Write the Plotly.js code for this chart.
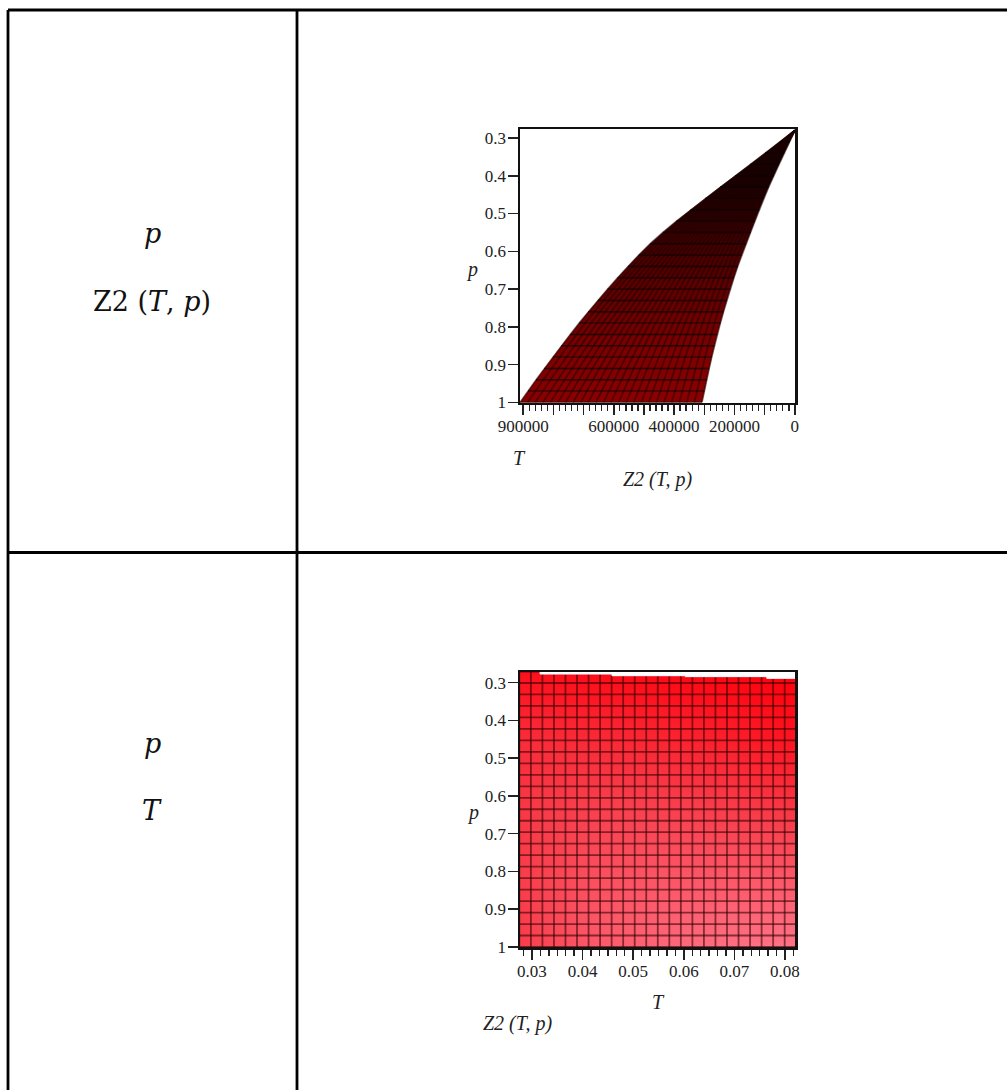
<!DOCTYPE html>
<html>
<head>
<meta charset="utf-8">
<script src="https://cdn.plot.ly/plotly-3.0.1.min.js"></script>
<style>html,body{margin:0;padding:0;background:#fff}#chart{width:1007px;height:1090px}</style>
</head>
<body>
<div id="chart"></div>
<script>
// ---- upper panel: p against Z2(T,p) ----
const pRows = [0.28,0.31,0.34,0.37,0.40,0.43,0.46,0.49,0.52,0.55,0.58,0.61,0.64,0.67,0.70,0.73,0.76,0.79,0.82,0.85,0.88,0.91,0.94,0.97,1.0];
const z2Far = [0,49000,98000,148000,198000,248000,297000,345000,392000,437000,479000,517000,553000,587000,620000,652500,684000,714500,744000,773000,801500,829500,857000,884000,910500];
const z2Near = [0,18000,35500,53000,70000,87000,103000,118000,132500,147000,161500,176000,189500,202000,214000,225500,236500,247000,257000,266500,275500,284000,292000,300000,308000];
const rowRed = [0,3,8,15,22,30,38,45,55,62,70,78,85,92,98,104,110,115,120,125,128,132,135,138];
const gridColumns = 24;
const z2TickVals = [900000,800000,700000,600000,500000,400000,300000,200000,100000,0];
const z2TickText = ['900000','','','600000','','400000','','200000','','0'];
// ---- lower panel: p against T ----
const tLines = [0.0275,0.02978,0.03206,0.03434,0.03662,0.0389,0.04118,0.04346,0.04574,0.04802,0.0503,0.05258,0.05486,0.05714,0.05942,0.0617,0.06398,0.06626,0.06854,0.07082,0.0731,0.07538,0.07766,0.07994,0.08222];
const pLines = [0.2704,0.3008,0.3312,0.3616,0.392,0.4224,0.4528,0.4832,0.5136,0.544,0.5744,0.6048,0.6352,0.6656,0.696,0.7264,0.7568,0.7872,0.8176,0.848,0.8784,0.9088,0.9392,0.9696,1.0];
const shadeT = [0.0275,0.0412,0.0548,0.0685,0.0822];
const shadeP = [0.27,0.45,0.635,0.82,1.0];
const shadeZ = [
  [0.14,0.10,0.07,0.04,0.00],
  [0.38,0.36,0.32,0.26,0.16],
  [0.48,0.55,0.56,0.52,0.46],
  [0.52,0.68,0.74,0.76,0.76],
  [0.52,0.76,0.88,0.96,1.00]
];
const edgeT = [0.0275,0.0316,0.0458,0.0603,0.0764,0.0822];
const edgeP = [0.27,0.277,0.2815,0.284,0.2885,0.2885];
const pTickVals = [0.3,0.4,0.5,0.6,0.7,0.8,0.9,1];
const pTickText = ['0.3','0.4','0.5','0.6','0.7','0.8','0.9','1'];
const tTickVals = [0.03,0.04,0.05,0.06,0.07,0.08];
const tTickText = ['0.03','0.04','0.05','0.06','0.07','0.08'];

const W = 1007, H = 1090;
const px = v => v / W, py = v => 1 - v / H;
const serif = '"Liberation Serif", serif';
const traces = [];

// upper surface: one filled band per row, then the mesh
for (let i = 0; i < pRows.length - 1; i++) {
  traces.push({
    type: 'scatter', mode: 'lines', xaxis: 'x', yaxis: 'y', hoverinfo: 'skip', showlegend: false,
    x: [z2Far[i], z2Near[i], z2Near[i+1], z2Far[i+1], z2Far[i]],
    y: [pRows[i], pRows[i], pRows[i+1], pRows[i+1], pRows[i]],
    fill: 'toself', fillcolor: `rgb(${rowRed[i]},0,0)`,
    line: {color: `rgb(${rowRed[i]},0,0)`, width: 0.5}
  });
}
const rowX = [], rowY = [], colX = [], colY = [];
pRows.forEach((p, i) => { rowX.push(z2Far[i], z2Near[i], null); rowY.push(p, p, null); });
for (let j = 0; j <= gridColumns; j++) {
  pRows.forEach((p, i) => {
    colX.push(z2Far[i] + (z2Near[i] - z2Far[i]) * j / gridColumns);
    colY.push(p);
  });
  colX.push(null); colY.push(null);
}
traces.push({type:'scatter',mode:'lines',xaxis:'x',yaxis:'y',hoverinfo:'skip',showlegend:false,x:colX,y:colY,line:{color:'rgba(30,0,0,0.5)',width:1.8}});
traces.push({type:'scatter',mode:'lines',xaxis:'x',yaxis:'y',hoverinfo:'skip',showlegend:false,x:rowX,y:rowY,line:{color:'rgba(10,0,0,0.75)',width:1.4}});

// lower surface
traces.push({
  type:'heatmap',xaxis:'x2',yaxis:'y2',x:shadeT,y:shadeP,z:shadeZ,zsmooth:'best',showscale:false,hoverinfo:'skip',zmin:0,zmax:1,
  colorscale:[[0,'rgb(255,0,12)'],[0.5,'rgb(248,58,72)'],[1,'rgb(255,115,135)']]
});
const l2x = [], l2y = [];
tLines.forEach(t => { l2x.push(t, t, null); l2y.push(pLines[0], pLines[pLines.length-1], null); });
pLines.forEach(p => { l2x.push(tLines[0], tLines[tLines.length-1], null); l2y.push(p, p, null); });
traces.push({type:'scatter',mode:'lines',xaxis:'x2',yaxis:'y2',hoverinfo:'skip',showlegend:false,x:l2x,y:l2y,line:{color:'rgba(50,0,0,0.58)',width:1.8}});
traces.push({type:'scatter',mode:'lines',xaxis:'x2',yaxis:'y2',hoverinfo:'skip',showlegend:false,x:edgeT,y:edgeP,line:{shape:'hv',color:'#fff',width:1},fill:'tozeroy',fillcolor:'#fff'});

const tickFont = {family: serif, size: 17, color: '#222'};
const titleFont = {family: serif, size: 20, color: '#222', style: 'italic'};
const commonX = {
  ticks:'outside',ticklen:10,tickwidth:1.5,tickcolor:'#222',tickfont:tickFont,tickangle:0,ticklabelstandoff:-3,
  showline:true,linecolor:'#111',linewidth:2.5,mirror:true,showgrid:false,zeroline:false,tickmode:'array',layer:'above traces'
};
const commonY = {
  ticks:'outside',ticklen:10,tickwidth:1.5,tickcolor:'#222',tickfont:tickFont,ticklabelstandoff:-2,
  showline:true,linecolor:'#111',linewidth:2.5,mirror:true,showgrid:false,zeroline:false,
  tickmode:'array',tickvals:pTickVals,ticktext:pTickText,layer:'above traces'
};
const minorBase = {ticks:'outside',ticklen:6,tickwidth:1.4,tickcolor:'#222',showgrid:false};

function cellText(text, x, y, size) {
  return {text, xref:'paper', yref:'paper', x:px(x), y:py(y), xanchor:'center', yanchor:'middle', showarrow:false,
          font:{family:'"DejaVu Serif", serif', size, color:'#111'}};
}
function label(text, x, y) {
  return {text, xref:'paper', yref:'paper', x:px(x), y:py(y), xanchor:'center', yanchor:'middle', showarrow:false, font:titleFont};
}
function rule(x0, y0, x1, y1) {
  return {type:'line', xref:'paper', yref:'paper', x0:px(x0), y0:py(y0), x1:px(x1), y1:py(y1), line:{color:'#000', width:2.8}, layer:'above'};
}

const layout = {
  width:W, height:H, margin:{l:0,r:0,t:0,b:0}, paper_bgcolor:'#fff', plot_bgcolor:'#fff', showlegend:false,
  xaxis:Object.assign({}, commonX, {
    domain:[px(520),px(795)], range:[910600,-500], anchor:'y', tickvals:z2TickVals, ticktext:z2TickText,
    minor:Object.assign({}, minorBase, {tickmode:'linear', tick0:0, dtick:20000}),
    title:{text:'<i>Z2 (T, p)</i>', font:titleFont, standoff:37}
  }),
  yaxis:Object.assign({}, commonY, {domain:[py(402.5),py(129)], range:[1,0.2763], anchor:'x'}),
  xaxis2:Object.assign({}, commonX, {
    domain:[px(520),px(795)], range:[0.02763,0.08198], anchor:'y2', tickvals:tTickVals, ticktext:tTickText,
    minor:Object.assign({}, minorBase, {tickmode:'linear', tick0:0.03, dtick:0.01/6}),
    title:{text:'<i>T</i>', font:titleFont, standoff:15}
  }),
  yaxis2:Object.assign({}, commonY, {domain:[py(947),py(672)], range:[1,0.2717], anchor:'x2'}),
  shapes:[rule(8,10,1007,10), rule(8,10,8,1090), rule(297,10,297,1090), rule(8,552.5,1007,552.5)],
  annotations:[
    cellText('<i>p</i>',152,234,27),
    cellText('Z2 (<i>T</i>, <i>p</i>)',152,301,27),
    cellText('<i>p</i>',152,743,27),
    cellText('<i>T</i>',152,810,27),
    label('<i>p</i>',472,269),
    label('<i>T</i>',519,458),
    label('<i>p</i>',473,812),
    label('<i>Z2 (T, p)</i>',517,1023)
  ]
};
Plotly.newPlot('chart', traces, layout, {displayModeBar:false, staticPlot:true});
</script>
</body>
</html>
